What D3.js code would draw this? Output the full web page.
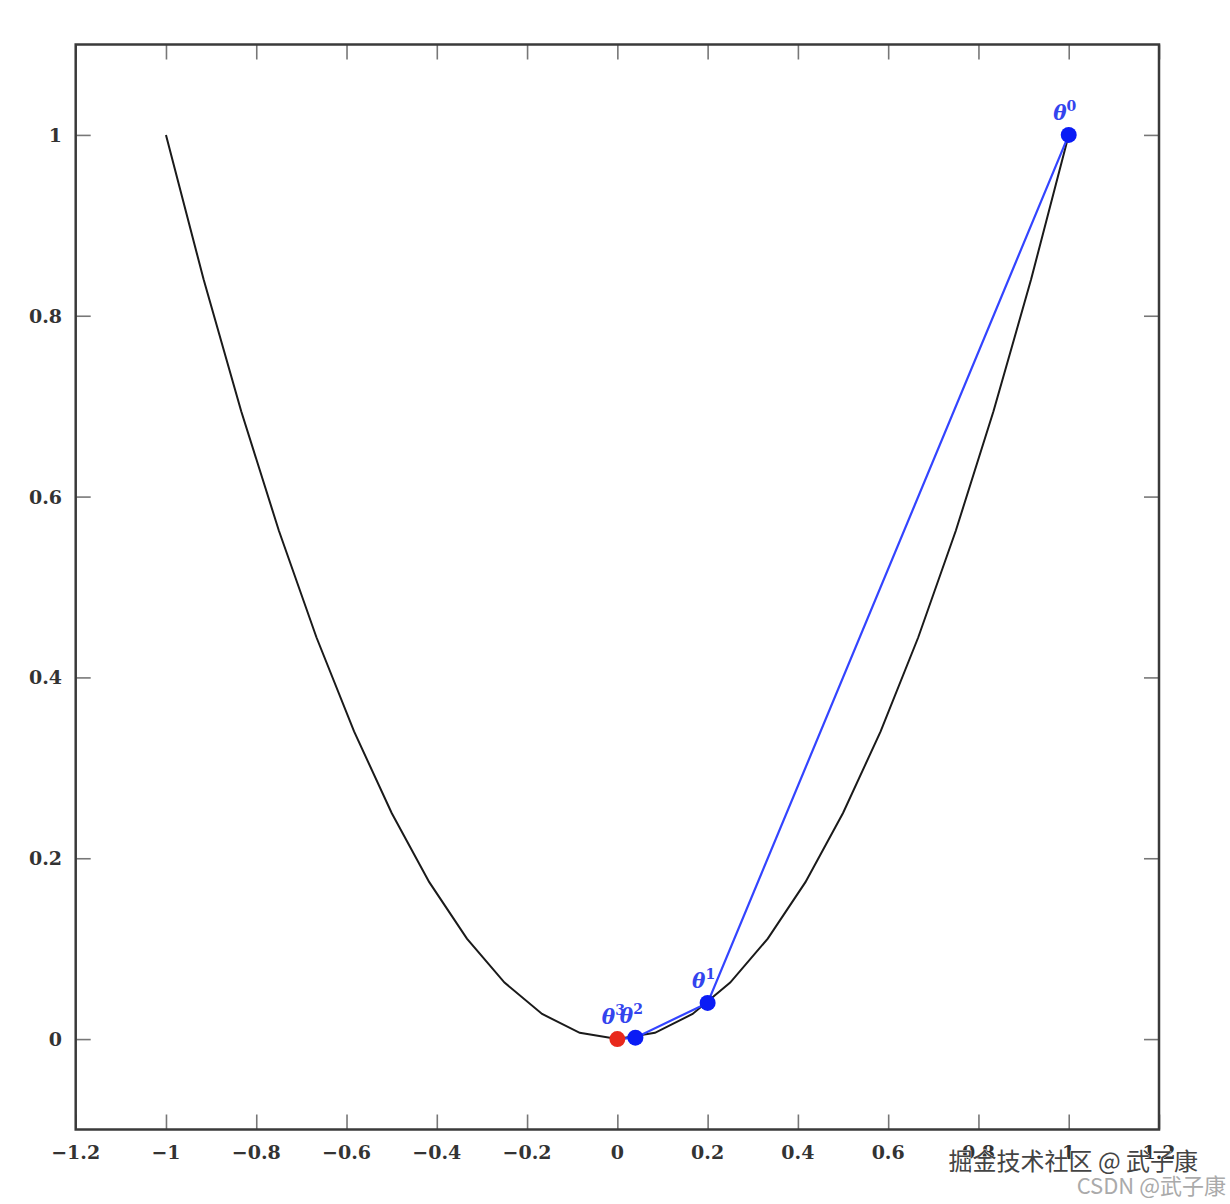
<!DOCTYPE html>
<html><head><meta charset="utf-8">
<script src="https://cdn.jsdelivr.net/npm/d3@7"></script>
<style>body{margin:0;background:#fff}</style>
</head><body>
<script>
// curve samples of f(x)=x^2 (25 samples)
const curveX = [-1,-0.9167,-0.8333,-0.75,-0.6667,-0.5833,-0.5,-0.4167,-0.3333,-0.25,-0.1667,-0.0833,0,0.0833,0.1667,0.25,0.3333,0.4167,0.5,0.5833,0.6667,0.75,0.8333,0.9167,1];
const curveY = [1,0.8403,0.6944,0.5625,0.4444,0.3403,0.25,0.1736,0.1111,0.0625,0.0278,0.0069,0,0.0069,0.0278,0.0625,0.1111,0.1736,0.25,0.3403,0.4444,0.5625,0.6944,0.8403,1];
// gradient descent iterates
const iterX = [1, 0.2, 0.04, 0.0];
const iterY = [1, 0.04, 0.0016, 0.0];
const iterLabels = ["0", "1", "2", "3"];
const iterColors = ["#0a1cf5", "#0a1cf5", "#0a1cf5", "#e8291c"];
const xTicks = [-1.2,-1,-0.8,-0.6,-0.4,-0.2,0,0.2,0.4,0.6,0.8,1,1.2];
const yTicks = [0,0.2,0.4,0.6,0.8,1];

const W = 1230, H = 1204;
const svg = d3.select("body").append("svg").attr("width", W).attr("height", H);
const x = d3.scaleLinear().domain([-1.2, 1.2]).range([75.7, 1159]);
const y = d3.scaleLinear().domain([-0.1, 1.1]).range([1129.5, 44.5]);

const fmt = v => (v < 0 ? "\u2212" : "") + String(Math.abs(+v.toFixed(2)));
const tickLen = 15;
const lab = {"font-family": "DejaVu Serif", "font-weight": "bold", "font-size": "19px", "fill": "#333"};

// axes via d3 axis
const gx = svg.append("g").attr("transform", `translate(0,${y(-0.1)})`)
  .call(d3.axisTop(x).tickValues(xTicks).tickSize(tickLen).tickFormat(""));
const gxt = svg.append("g").attr("transform", `translate(0,${y(1.1)})`)
  .call(d3.axisBottom(x).tickValues(xTicks).tickSize(tickLen).tickFormat(""));
const gy = svg.append("g").attr("transform", `translate(${x(-1.2)},0)`)
  .call(d3.axisRight(y).tickValues(yTicks).tickSize(tickLen).tickFormat(""));
const gyr = svg.append("g").attr("transform", `translate(${x(1.2)},0)`)
  .call(d3.axisLeft(y).tickValues(yTicks).tickSize(tickLen).tickFormat(""));
[gx, gxt, gy, gyr].forEach(g => {
  g.select(".domain").remove();
  g.selectAll("line").attr("stroke", "#777").attr("stroke-width", 1.6);
});

// tick labels
const xl = svg.append("g").selectAll("text").data(xTicks).join("text")
  .attr("x", d => x(d)).attr("y", 1159).attr("text-anchor", "middle").text(fmt);
Object.entries(lab).forEach(([k, v]) => xl.attr(k, v));
const yl = svg.append("g").selectAll("text").data(yTicks).join("text")
  .attr("x", 62).attr("y", d => y(d) + 7).attr("text-anchor", "end").text(fmt);
Object.entries(lab).forEach(([k, v]) => yl.attr(k, v));

// frame
svg.append("rect").attr("x", x(-1.2)).attr("y", y(1.1))
  .attr("width", x(1.2) - x(-1.2)).attr("height", y(-0.1) - y(1.1))
  .attr("fill", "none").attr("stroke", "#3a3a3a").attr("stroke-width", 2.5);

// curve
const pts = curveX.map((v, i) => [v, curveY[i]]);
svg.append("path").datum(pts)
  .attr("d", d3.line().x(d => x(d[0])).y(d => y(d[1])))
  .attr("fill", "none").attr("stroke", "#1a1a1a").attr("stroke-width", 2);

// descent path
const it = iterX.map((v, i) => ({x: v, y: iterY[i], l: iterLabels[i], c: iterColors[i]}));
svg.append("path").datum(it)
  .attr("d", d3.line().x(d => x(d.x)).y(d => y(d.y)))
  .attr("fill", "none").attr("stroke", "#3344ff").attr("stroke-width", 2.2);

svg.append("g").selectAll("circle").data(it.slice().reverse()).join("circle")
  .attr("cx", d => x(d.x)).attr("cy", d => y(d.y)).attr("r", 8)
  .attr("fill", d => d.c);

// labels
const tl = svg.append("g").selectAll("text").data(it).join("text")
  .attr("x", d => x(d.x) - 4).attr("y", d => y(d.y) - 15)
  .attr("text-anchor", "middle")
  .attr("font-family", "DejaVu Serif").attr("font-style", "italic").attr("font-weight", "bold")
  .attr("font-size", "20px").attr("fill", "#3344ee");
tl.append("tspan").text("\u03b8");
tl.append("tspan").attr("dy", -9).attr("font-size", "14px").attr("font-style", "normal").text(d => d.l);

// watermarks
svg.append("text").attr("x", 1198).attr("y", 1170).attr("text-anchor", "end")
  .attr("font-family", "Noto Sans CJK SC").attr("font-size", "24px")
  .attr("fill", "#444").attr("stroke", "#fff").attr("stroke-width", 0.8).attr("paint-order", "stroke")
  .text("掘金技术社区 @ 武子康");
svg.append("text").attr("x", 1226).attr("y", 1194).attr("text-anchor", "end")
  .attr("font-family", "Noto Sans CJK SC").attr("font-size", "22px").attr("fill", "#aaa")
  .text("CSDN @武子康");
</script>
</body></html>
